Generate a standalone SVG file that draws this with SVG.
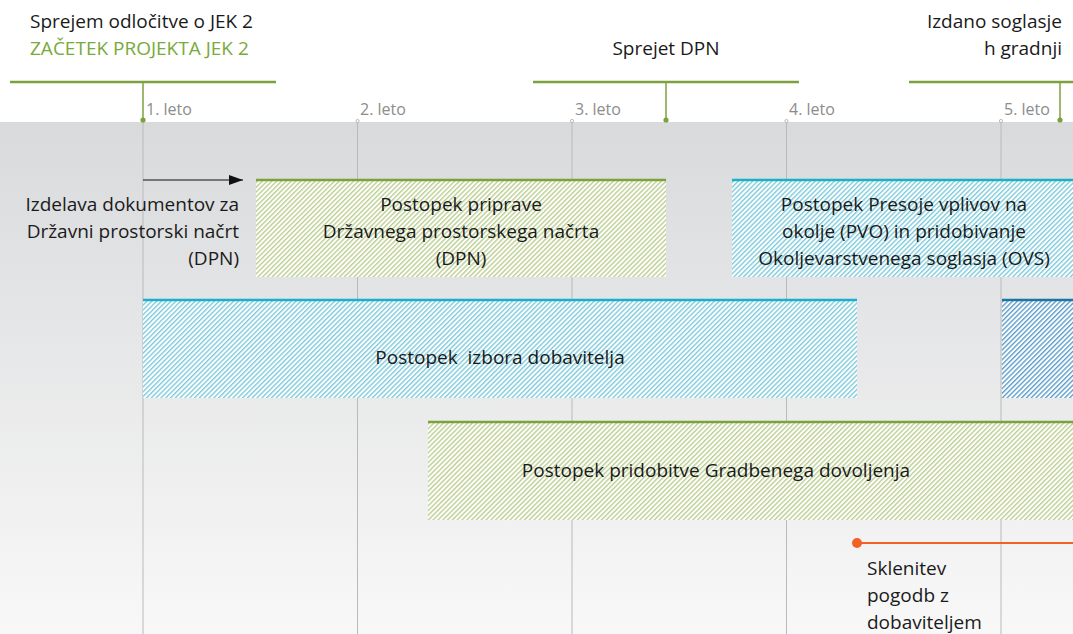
<svg xmlns="http://www.w3.org/2000/svg" width="1073" height="634" viewBox="0 0 1073 634">
<style>
text{font-family:"Open Sans","Noto Sans","Liberation Sans",sans-serif;fill:#1a1a1a;font-size:19px}
.yr{fill:#8c8c8c;font-size:16px}
.mid{text-anchor:middle}
.end{text-anchor:end}
.grn{fill:#7aa93c}
.grid{stroke:#b9babc;stroke-width:1}
.gl{stroke:#7ba23f;stroke-width:2.5;fill:none}
</style>
<defs>
<linearGradient id="bg" x1="0" y1="0" x2="0" y2="1">
<stop offset="0" stop-color="#d9dadc"/>
<stop offset="1" stop-color="#f8f8f8"/>
</linearGradient>
<pattern id="hG" width="3.4" height="10" patternUnits="userSpaceOnUse" patternTransform="rotate(45)">
<rect width="3.4" height="10" fill="#fff"/><rect x="0" width="1.4" height="10" fill="#bccf93"/>
</pattern>
<pattern id="hC" width="3.4" height="10" patternUnits="userSpaceOnUse" patternTransform="rotate(45)">
<rect width="3.4" height="10" fill="#fff"/><rect x="0" width="1.4" height="10" fill="#7fcbdd"/>
</pattern>
<pattern id="hB" width="3.4" height="10" patternUnits="userSpaceOnUse" patternTransform="rotate(45)">
<rect width="3.4" height="10" fill="#fff"/><rect x="0" width="1.4" height="10" fill="#5d9ecb"/>
</pattern>
<marker id="ar" markerWidth="14" markerHeight="10" refX="14" refY="5" orient="auto" markerUnits="userSpaceOnUse">
<path d="M0,0 L14,5 L0,10 Z" fill="#111"/>
</marker>
</defs>
<rect width="1073" height="634" fill="#fff"/>
<rect y="122" width="1073" height="512" fill="url(#bg)"/>
<g id="timeline">
<line class="grid" x1="143" y1="121" x2="143" y2="634"/>
<line class="grid" x1="357.5" y1="121" x2="357.5" y2="634"/>
<line class="grid" x1="572" y1="121" x2="572" y2="634"/>
<line class="grid" x1="786.5" y1="121" x2="786.5" y2="634"/>
<line class="grid" x1="1001" y1="121" x2="1001" y2="634"/>
<circle cx="357.5" cy="121" r="1.6" fill="#fff" stroke="#a9a9a9" stroke-width="0.8"/>
<circle cx="572" cy="121" r="1.6" fill="#fff" stroke="#a9a9a9" stroke-width="0.8"/>
<circle cx="786.5" cy="121" r="1.6" fill="#fff" stroke="#a9a9a9" stroke-width="0.8"/>
<circle cx="1001" cy="121" r="1.6" fill="#fff" stroke="#a9a9a9" stroke-width="0.8"/>
<text class="yr" x="146" y="115">1. leto</text>
<text class="yr" x="360" y="115">2. leto</text>
<text class="yr" x="575" y="115">3. leto</text>
<text class="yr" x="789" y="115">4. leto</text>
<text class="yr" x="1004" y="115">5. leto</text>
</g>
<g id="m1">
<text x="30" y="28">Sprejem odločitve o JEK 2</text>
<text class="grn" x="30" y="55">ZAČETEK PROJEKTA JEK 2</text>
<line class="gl" x1="10" y1="82" x2="276" y2="82"/>
<line x1="143" y1="82" x2="143" y2="120" stroke="#7ba23f" stroke-width="1.5"/>
<circle cx="143" cy="120" r="2.6" fill="#7ba23f"/>
</g>
<g id="m2">
<text class="mid" x="666" y="55">Sprejet DPN</text>
<line class="gl" x1="533" y1="82" x2="799" y2="82"/>
<line x1="666" y1="82" x2="666" y2="120" stroke="#7ba23f" stroke-width="1.5"/>
<circle cx="666" cy="120" r="2.6" fill="#7ba23f"/>
</g>
<g id="m3">
<text class="end" x="1062" y="28">Izdano soglasje</text>
<text class="end" x="1062" y="55">h gradnji</text>
<line class="gl" x1="909" y1="82" x2="1073" y2="82"/>
<line x1="1060" y1="82" x2="1060" y2="120" stroke="#7ba23f" stroke-width="1.5"/>
<circle cx="1060" cy="120" r="2.6" fill="#7ba23f"/>
</g>
<g id="n-izdelava">
<text class="end" x="239" y="211">Izdelava dokumentov za</text>
<text class="end" x="239" y="238">Državni prostorski načrt</text>
<text class="end" x="239" y="265">(DPN)</text>
</g>
<g id="n-dpn">
<rect x="256" y="179" width="410" height="98" fill="url(#hG)"/>
<line x1="256" y1="180" x2="666" y2="180" stroke="#7ba23f" stroke-width="2.5"/>
<text class="mid" x="461" y="211">Postopek priprave</text>
<text class="mid" x="461" y="238">Državnega prostorskega načrta</text>
<text class="mid" x="461" y="265">(DPN)</text>
</g>
<g id="n-pvo">
<rect x="732" y="179" width="341" height="98" fill="url(#hC)"/>
<line x1="732" y1="180" x2="1073" y2="180" stroke="#1bb0ca" stroke-width="2.5"/>
<text class="mid" x="904" y="211">Postopek Presoje vplivov na</text>
<text class="mid" x="904" y="238">okolje (PVO) in pridobivanje</text>
<text class="mid" x="904" y="265">Okoljevarstvenega soglasja (OVS)</text>
</g>
<g id="n-izbor">
<rect x="143" y="299" width="714" height="99" fill="url(#hC)"/>
<line x1="143" y1="300" x2="857" y2="300" stroke="#1bb0ca" stroke-width="2.5"/>
<text class="mid" x="500" y="364" xml:space="preserve">Postopek  izbora dobavitelja</text>
</g>
<g id="n-dark">
<rect x="1002" y="299" width="71" height="99" fill="url(#hB)"/>
<line x1="1002" y1="300" x2="1073" y2="300" stroke="#1d75a6" stroke-width="2.5"/>
</g>
<g id="n-gd">
<rect x="428" y="421" width="645" height="99" fill="url(#hG)"/>
<line x1="428" y1="422" x2="1073" y2="422" stroke="#7ba23f" stroke-width="2.5"/>
<text class="mid" x="716" y="477">Postopek pridobitve Gradbenega dovoljenja</text>
</g>
<g id="n-pogodbe">
<circle cx="857" cy="543" r="5" fill="#f26126"/>
<text x="867" y="575">Sklenitev</text>
<text x="867" y="602">pogodb z</text>
<text x="867" y="629">dobaviteljem</text>
</g>
<g id="connectors">
<line x1="143" y1="180" x2="243" y2="180" stroke="#111" stroke-width="1.2" marker-end="url(#ar)"/>
<line x1="857" y1="543" x2="1073" y2="543" stroke="#f26126" stroke-width="2"/>
</g>
</svg>
